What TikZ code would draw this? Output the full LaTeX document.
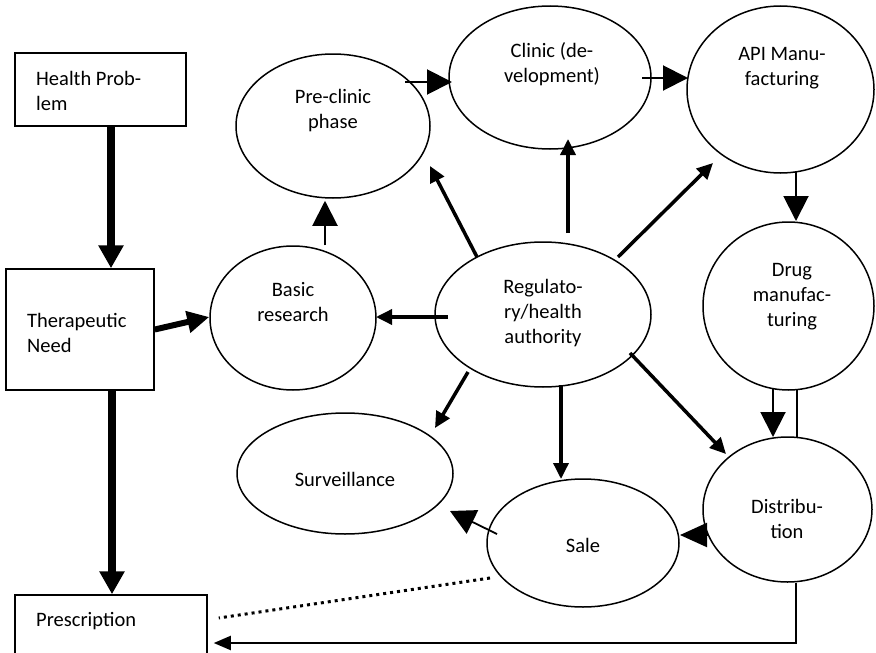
\documentclass[tikz,border=0pt]{standalone}
\usepackage{fontspec}
\setmainfont{Carlito}
\usetikzlibrary{arrows.meta,shapes.geometric,calc}

\begin{document}
\begin{tikzpicture}[x=1pt,y=-1pt,
  box/.style={draw, line width=1.5pt, rectangle, inner sep=0pt},
  oval/.style={draw, line width=1.5pt, ellipse, inner sep=0pt},
  lbl/.style={font=\fontsize{20.5}{25}\selectfont, inner sep=0pt, align=center, anchor=base},
  lbll/.style={font=\fontsize{20.5}{25}\selectfont, inner sep=0pt, align=left, anchor=base west},
  heavy/.style={line width=8pt, -{Triangle[length=23pt,width=24pt]}},
  wide/.style={line width=6pt, -{Triangle[length=22pt,width=21pt]}},
  reg/.style={line width=3.5pt, -{Triangle[length=16pt,width=15pt]}},
  fine/.style={line width=2pt, -{Triangle[length=25pt,width=25pt]}},
  plain/.style={line width=2pt},
  back/.style={line width=2pt, -{Triangle[length=17pt,width=14pt]}},
  dots/.style={line width=3pt, dash pattern=on 3pt off 4pt}
]
\useasboundingbox (0,0) rectangle (876,653);
\fill[white] (0,0) rectangle (876,653);

% boxes
\node[box, minimum width=171pt, minimum height=73pt] (health) at (100.5,89.5) {};
\node[box, minimum width=148pt, minimum height=121pt] (ther) at (80,329.5) {};
\node[box, minimum width=192pt, minimum height=80pt] (presc) at (111,635) {};

% ovals
\node[oval, minimum width=194pt, minimum height=144pt] (pre) at (333,126) {};
\node[oval, minimum width=202pt, minimum height=143pt] (clinic) at (550,77.5) {};
\node[oval, minimum width=187pt, minimum height=167pt] (api) at (780.5,89.5) {};
\node[oval, minimum width=166pt, minimum height=144pt] (basic) at (293,318) {};
\node[oval, minimum width=216pt, minimum height=145pt] (regu) at (543,314.5) {};
\node[oval, minimum width=171pt, minimum height=168pt] (drug) at (788.5,306) {};
\node[oval, minimum width=216pt, minimum height=121pt] (surv) at (345,473.5) {};
\node[oval, minimum width=192pt, minimum height=128pt] (sale) at (583,543) {};
\node[oval, minimum width=169pt, minimum height=145pt] (dist) at (787.5,509.5) {};

% texts (anchored at the baseline of the last line)
\node[lbll] (healthT) at (36,110) {Health Prob-\\lem};
\node[lbll] (therT) at (27,352) {Therapeutic\\Need};
\node[lbll] (prescT) at (36,626) {Prescription};
\node[lbl] (preT) at (333,128) {Pre-clinic\\phase};
\node[lbl] (clinicT) at (552,82) {Clinic (de-\\velopment)};
\node[lbl] (apiT) at (782,85) {API Manu-\\facturing};
\node[lbl] (basicT) at (293,321) {Basic\\research};
\node[lbl] (reguT) at (543,343) {Regulato-\\ry/health\\authority};
\node[lbl] (drugT) at (792,326) {Drug\\manufac-\\turing};
\node[lbl] (survT) at (345,486) {Surveillance};
\node[lbl] (saleT) at (583,552) {Sale};
\node[lbl] (distT) at (787,538) {Distribu-\\tion};

% main chain on the left
\draw[heavy] ($(health.south)+(10.5,0)$) -- ($(ther.north)+(31,0)$);
\draw[heavy] ($(ther.south)+(32,0)$) -- ($(presc.north)+(1,0)$);
\draw[wide] (ther.east) -- ($(basic.west)+(0,-1)$);

% development chain
\draw[fine] ($(basic.north)+(32,0)$) -- ($(pre.south)+(-8,2)$);
\draw[fine] ($(pre)+(72,-44)$) -- ($(clinic)+(-98,4.5)$);
\draw[fine] ($(clinic)+(92,0.5)$) -- ($(api)+(-92.5,-11.5)$);
\draw[fine] ($(api)+(15.5,82.5)$) -- ($(drug)+(7.5,-85)$);
\draw[fine] ($(drug)+(-15.5,83)$) -- ($(dist)+(-14.5,-72.5)$);
\draw[plain] ($(drug)+(8.5,83.5)$) -- ($(dist)+(9.5,-71.5)$);

% authority arrows
\draw[reg] ($(regu)+(-95,2.5)$) -- ($(basic)+(83,-1)$);
\draw[reg] ($(regu)+(-66,-57.5)$) -- ($(pre)+(97,40)$);
\draw[reg] ($(regu)+(25,-81.5)$) -- ($(clinic)+(18,61.5)$);
\draw[reg] ($(regu)+(75,-57.5)$) -- ($(api)+(-67.5,73.5)$);
\draw[reg] ($(regu)+(-75,57.5)$) -- ($(surv)+(90,-45.5)$);
\draw[reg] ($(regu)+(18,70.5)$) -- ($(sale)+(-22,-64)$);
\draw[reg] ($(regu)+(87,38.5)$) -- ($(dist)+(-61.5,-55.5)$);

% market side
\draw[line width=1.8pt, -{Triangle[length=25pt,width=26pt]}] ($(sale)+(-86,-9)$) -- ($(surv)+(105,37.5)$);
\draw[line width=2pt, -{Triangle[length=27pt,width=24pt]}] ($(dist)+(-80.5,25.5)$) -- ($(sale)+(97,-8)$);
\draw[back] ($(dist.south)+(8.5,0)$) |- ($(presc.east)+(6,8)$);
\draw[dots] ($(sale)+(-93,35)$) -- ($(presc.east)+(11,-17)$);
\end{tikzpicture}
\end{document}
